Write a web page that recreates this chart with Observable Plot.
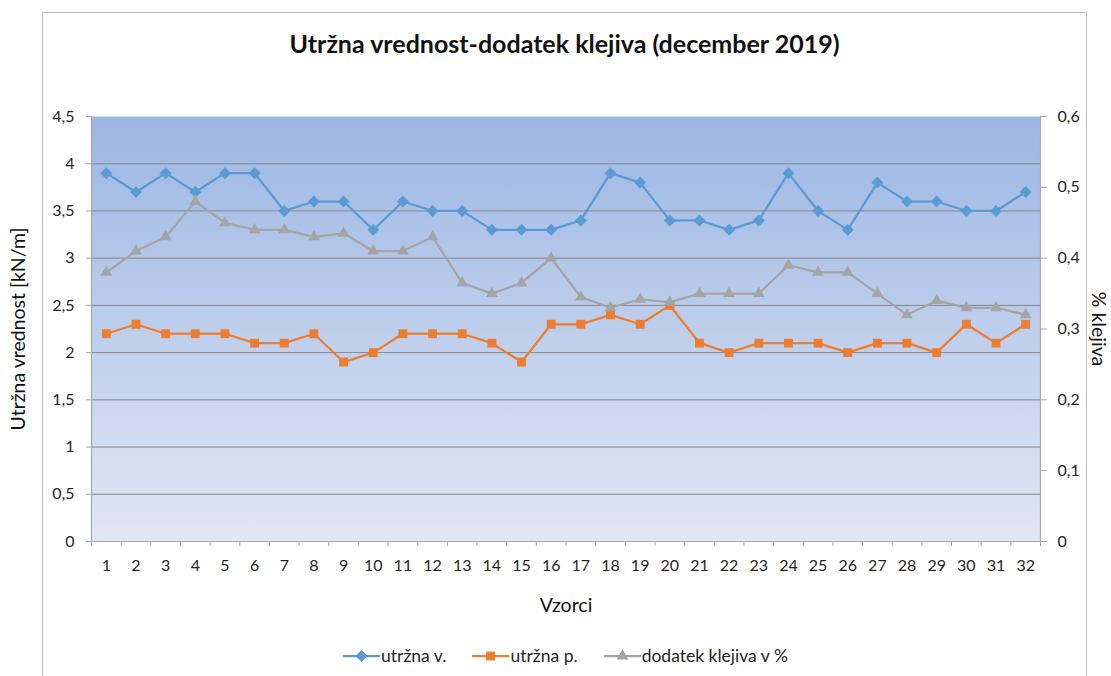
<!DOCTYPE html>
<html>
<head>
<meta charset="utf-8">
<script src="https://cdn.jsdelivr.net/npm/d3@7"></script>
<script src="https://cdn.jsdelivr.net/npm/@observablehq/plot@0.6"></script>
<style>
  body { margin: 0; background: #fff; font-family: Lato, "Open Sans", sans-serif; }
  #wrap { position: relative; width: 1111px; height: 676px; overflow: hidden; }
  #border { position: absolute; left: 42px; top: 12px; width: 1045px; height: 700px; border: 1px solid #c0c0c0; box-sizing: border-box; }
  #title { position: absolute; top: 28px; left: 42px; width: 1045px; text-align: center; font-weight: bold; font-size: 25px; color: #111; }
  #chart { position: absolute; left: 0; top: 0; }
  #legend { position: absolute; top: 645px; left: 0; width: 1131px; display: flex; justify-content: center; gap: 26px; font-size: 17.5px; color: #262626; }
  #legend .item { display: flex; align-items: center; gap: 1px; }
</style>
</head>
<body>
<div id="wrap">
  <div id="border"></div>
  <div id="title">Utržna vrednost-dodatek klejiva (december 2019)</div>
  <div id="chart"></div>
  <div id="legend"></div>
</div>
<script>
// ---- data ----
const samples = [1,2,3,4,5,6,7,8,9,10,11,12,13,14,15,16,17,18,19,20,21,22,23,24,25,26,27,28,29,30,31,32];
const utrznaV = [3.9,3.7,3.9,3.7,3.9,3.9,3.5,3.6,3.6,3.3,3.6,3.5,3.5,3.3,3.3,3.3,3.4,3.9,3.8,3.4,3.4,3.3,3.4,3.9,3.5,3.3,3.8,3.6,3.6,3.5,3.5,3.7];
const utrznaP = [2.2,2.3,2.2,2.2,2.2,2.1,2.1,2.2,1.9,2.0,2.2,2.2,2.2,2.1,1.9,2.3,2.3,2.4,2.3,2.5,2.1,2.0,2.1,2.1,2.1,2.0,2.1,2.1,2.0,2.3,2.1,2.3];
const dodatek = [0.38,0.41,0.43,0.48,0.45,0.44,0.44,0.43,0.435,0.41,0.41,0.43,0.365,0.35,0.365,0.40,0.345,0.33,0.342,0.338,0.35,0.35,0.35,0.39,0.38,0.38,0.35,0.32,0.34,0.33,0.33,0.32];
const leftTicks = [0,0.5,1,1.5,2,2.5,3,3.5,4,4.5];
const rightTicks = [0,0.1,0.2,0.3,0.4,0.5,0.6];
const seriesNames = ["utržna v.", "utržna p.", "dodatek klejiva v %"];
const seriesColors = ["#5b9bd5", "#ed7d31", "#a5a5a5"];
const seriesSymbols = ["diamond2", "square", "triangle"];
const titles = { left: "Utržna vrednost [kN/m]", right: "% klejiva", x: "Vzorci" };

// ---- layout ----
const W = 1111, H = 676, ML = 91, MR = 71, MT = 116, MB = 135;
const step = (W - ML - MR) / samples.length;
const ratio = leftTicks[leftTicks.length - 1] / rightTicks[rightTicks.length - 1];
const fmt = d => String(+d.toFixed(2)).replace(".", ",");

const rows = [];
samples.forEach((s, i) => {
  rows.push({s, v: utrznaV[i], k: 0});
  rows.push({s, v: utrznaP[i], k: 1});
  rows.push({s, v: dodatek[i] * ratio, k: 2});
});

const defs = () => {
  const d = d3.create("svg:defs");
  const g = d.append("linearGradient").attr("id", "bg").attr("x1", 0).attr("y1", 0).attr("x2", 0).attr("y2", 1);
  g.append("stop").attr("offset", "0%").attr("stop-color", "#9bb6e3");
  g.append("stop").attr("offset", "100%").attr("stop-color", "#e0e7f4");
  return d.node();
};

const lineMarks = [];
[0, 1, 2].forEach(k => {
  const data = rows.filter(r => r.k === k);
  lineMarks.push(Plot.line(data, {x: "s", y: "v", stroke: seriesColors[k], strokeWidth: 2.25}));
});
const rs = [5.4, 5, 4.4];
[0, 1, 2].forEach(k => {
  const data = rows.filter(r => r.k === k);
  lineMarks.push(Plot.dot(data, {x: "s", y: "v", fill: seriesColors[k], stroke: "none", symbol: seriesSymbols[k], r: rs[k]}));
});

const chart = Plot.plot({
  width: W, height: H,
  marginLeft: ML, marginRight: MR, marginTop: MT, marginBottom: MB,
  style: {fontFamily: "Lato, 'Open Sans', sans-serif", fontSize: "16px", color: "#262626", background: "transparent", overflow: "visible"},
  x: {type: "band", domain: samples, padding: 0, round: false},
  y: {domain: [0, 4.5]},
  marks: [
    defs,
    Plot.frame({fill: "url(#bg)", stroke: "none"}),
    Plot.gridY(leftTicks.slice(1, -1), {stroke: "#878787", strokeOpacity: 1, strokeWidth: 1}),
    Plot.ruleY([0], {stroke: "#a9a9a9", strokeWidth: 1.2}),
    Plot.frame({anchor: "left", stroke: "#a9a9a9", strokeWidth: 1.2}),
    Plot.frame({anchor: "right", stroke: "#a9a9a9", strokeWidth: 1.2}),
    Plot.axisY(leftTicks, {anchor: "left", tickSize: 5, tickPadding: 12, tickFormat: fmt, stroke: "#a9a9a9", fill: "#262626", label: null}),
    Plot.axisY(rightTicks.map(d => d * ratio), {anchor: "right", tickSize: 6, tickPadding: 11, tickFormat: d => fmt(d / ratio), stroke: "#a9a9a9", fill: "#262626", label: null}),
    Plot.axisX(samples, {tickSize: 0, tickPadding: 18, stroke: "none", fill: "#262626", label: null}),
    Plot.axisX(samples, {tickSize: 5, tickFormat: () => "", dx: -step / 2, stroke: "#a9a9a9", label: null}),
    Plot.axisX([samples[samples.length - 1]], {tickSize: 5, tickFormat: () => "", dx: step / 2, stroke: "#a9a9a9", label: null}),
    Plot.text([titles.left], {text: d => d, frameAnchor: "left", textAnchor: "middle", dx: -73, rotate: -90, fontSize: 19.5, fill: "#111"}),
    Plot.text([titles.right], {text: d => d, frameAnchor: "right", textAnchor: "middle", dx: 58, rotate: 90, fontSize: 19.5, fill: "#111"}),
    Plot.text([titles.x], {text: d => d, frameAnchor: "bottom", textAnchor: "middle", dy: 70, fontSize: 19.5, fill: "#111"}),
    ...lineMarks
  ]
});
document.getElementById("chart").append(chart);

// ---- legend ----
const legend = d3.select("#legend");
seriesNames.forEach((name, k) => {
  const item = legend.append("div").attr("class", "item");
  const svg = item.append("svg").attr("width", 37).attr("height", 14);
  svg.append("line").attr("x1", 0).attr("x2", 37).attr("y1", 7).attr("y2", 7).attr("stroke", seriesColors[k]).attr("stroke-width", 2.25);
  const sym = {diamond2: d3.symbolDiamond2, square: d3.symbolSquare, triangle: d3.symbolTriangle}[seriesSymbols[k]];
  svg.append("path").attr("transform", "translate(18.5,7)").attr("d", d3.symbol(sym, Math.PI * rs[k] * rs[k])()).attr("fill", seriesColors[k]);
  item.append("span").text(name);
});
</script>
</body>
</html>
